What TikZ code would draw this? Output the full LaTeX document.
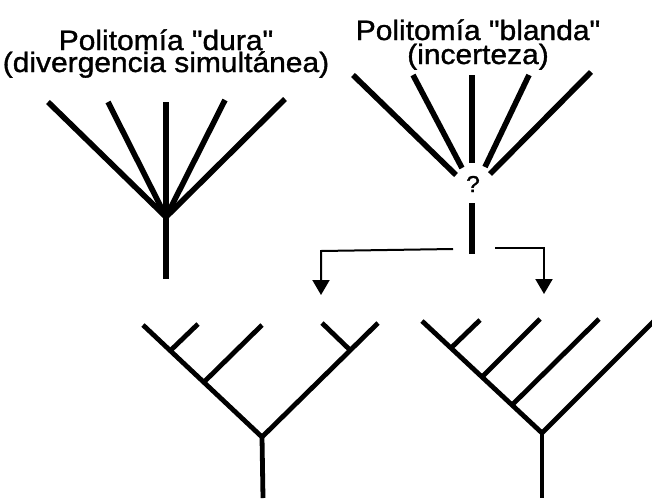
\documentclass[tikz,border=0pt]{standalone}
\usepackage{fontspec}
\setmainfont{Liberation Sans}
\newfontfamily\lab[FakeStretch=1.07,FakeBold=1.2]{Liberation Sans}
\usetikzlibrary{arrows.meta}
\begin{document}
\begin{tikzpicture}[x=1pt,y=-1pt,
  fan/.style={line width=5.6pt},
  tree/.style={line width=4.8pt, line join=miter},
  conn/.style={line width=2pt, -{Triangle[width=17pt,length=15pt]}},
  title/.style={inner sep=0pt, anchor=base, align=center},
  qmark/.style={font=\lab\fontsize{23}{24}\selectfont, inner sep=0pt}]
\useasboundingbox (0,0) rectangle (652,498);

% titles (anchor = baseline of the last line)
\node[title, font=\lab\fontsize{28}{22}\selectfont] (t1) at (166,72)
  {Politomía "dura"\\(divergencia simultánea)};
\node[title, font=\lab\fontsize{28}{24}\selectfont] (t2) at (478,64)
  {Politomía "blanda"\\(incerteza)};

% hard polytomy
\coordinate (h) at (166,217);
\coordinate (h1) at (48,102);
\coordinate (h2) at (108,102);
\coordinate (h3) at (166,102);
\coordinate (h4) at (225,100);
\coordinate (h5) at (285,99);
\coordinate (hb) at (166,279);
\foreach \t in {h1,h2,h3,h4,h5} \draw[fan] (\t) -- (h);
\draw[fan] (h) -- (hb);

% soft polytomy
\node[qmark] (q) at (473,184) {?};
\coordinate (s1a) at (353,75);  \coordinate (s1b) at (456,175);
\coordinate (s2a) at (413,75);  \coordinate (s2b) at (462,168);
\coordinate (s3a) at (472,75);  \coordinate (s3b) at (472,163);
\coordinate (s4a) at (529,75);  \coordinate (s4b) at (485,167);
\coordinate (s5a) at (591,72);  \coordinate (s5b) at (490,174);
\coordinate (st) at (472,203);  \coordinate (sb) at (472,254);
\draw[fan] (s1a) -- (s1b);
\draw[fan] (s2a) -- (s2b);
\draw[fan] (s3a) -- (s3b);
\draw[fan] (s4a) -- (s4b);
\draw[fan] (s5a) -- (s5b);
\draw[fan] (st) -- (sb);

% arrows
\coordinate (al) at (453,249);
\coordinate (ar) at (495,248);
\coordinate (tl) at (321,295);
\coordinate (tr) at (544,294);
\draw[conn] (al) -- (321,251) -- (tl);
\draw[conn] (ar) -- (544,248) -- (tr);

% lower-left tree
\coordinate (r1) at (262,437);
\coordinate (r1b) at (263,498);
\coordinate (l1) at (143,325);
\coordinate (a1) at (171,350);
\coordinate (a1t) at (198,324);
\coordinate (b1) at (204,382);
\coordinate (b1t) at (262,325);
\coordinate (rr1) at (378,323);
\coordinate (c1) at (350,350);
\coordinate (c1t) at (322,323);
\draw[tree] (l1) -- (r1) -- (rr1);
\draw[tree] (r1) -- (r1b);
\draw[tree] (a1) -- (a1t);
\draw[tree] (b1) -- (b1t);
\draw[tree] (c1) -- (c1t);

% lower-right tree
\coordinate (r2) at (542,433);
\coordinate (r2b) at (542,498);
\coordinate (l2) at (422,321);
\coordinate (n1) at (451,348);
\coordinate (n1t) at (480,320);
\coordinate (n2) at (482,377);
\coordinate (n2t) at (540,319);
\coordinate (n3) at (512,405);
\coordinate (n3t) at (599,319);
\coordinate (rr2) at (654,321);
\draw[tree] (l2) -- (r2) -- (rr2);
\draw[tree] (r2) -- (r2b);
\draw[tree] (n1) -- (n1t);
\draw[tree] (n2) -- (n2t);
\draw[tree] (n3) -- (n3t);
\end{tikzpicture}
\end{document}
